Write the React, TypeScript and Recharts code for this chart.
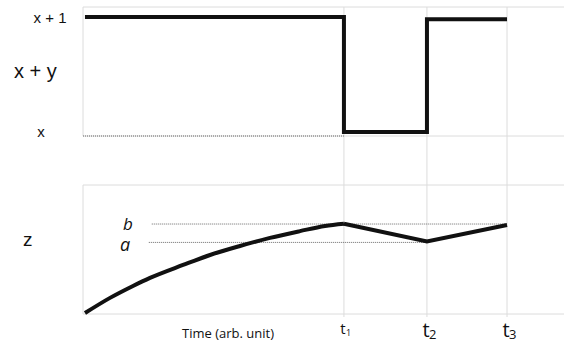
import React from 'react';
import { ComposedChart, Line, XAxis, YAxis, ReferenceLine } from 'recharts';

// ---- data ----
const tMarks = [2.656, 3.501, 4.316]; // t1, t2, t3
const tSubs = ['1', '2', '3'];
const stateTicks = [0, 1];
const stateTickLabels = ['x', 'x + 1'];
const stateSteps = [
  { t: 0.02, s: 1 },
  { t: 2.656, s: 0 },
  { t: 3.501, s: 0.98 },
  { t: 4.316, s: 0.98 },
];
const zRise = [
  { t: 0.02, z: 0.03 },
  { t: 0.275, z: 0.5 },
  { t: 0.509, z: 0.87 },
  { t: 0.682, z: 1.12 },
  { t: 1.018, z: 1.52 },
  { t: 1.293, z: 1.83 },
  { t: 1.598, z: 2.11 },
  { t: 1.903, z: 2.36 },
  { t: 2.209, z: 2.57 },
  { t: 2.463, z: 2.73 },
  { t: 2.656, z: 2.8 },
];
const zAfter = [
  { t: 2.656, z: 2.8 },
  { t: 3.501, z: 2.25 },
  { t: 4.316, z: 2.76 },
];
const levelB = 2.79;
const levelA = 2.22;
const levelBStart = 0.7;
const levelAStart = 0.67;
const stateFrameBottom = -0.035;
const zFrameTop = 4;
const zFrameBottom = 0;

// axis domains
const xMax = 4.896;
const sDomain: [number, number] = [-1.609, 1.087];
const zDomain: [number, number] = [-0.093, 9.52];

const GRID = '#dcdcdc';
const INK = '#111111';
const DOT = '#6a6a6a';

const StateTick = (props: any) => {
  const { y, payload } = props;
  const idx = stateTicks.indexOf(payload.value);
  const label = stateTickLabels[idx];
  const cx = idx === 1 ? 50 : 41;
  return (
    <text x={cx} y={y + (idx === 1 ? 6 : 5)} textAnchor="middle" fontFamily="Liberation Sans, Arial, sans-serif" fontSize={15} fill="#111">
      {label}
    </text>
  );
};

const TimeTick = (props: any) => {
  const { x, y, payload } = props;
  const idx = tMarks.indexOf(payload.value);
  const big = idx > 0;
  const fs = big ? 20 : 15;
  const sfs = big ? 13 : 9;
  const base = big ? y + 20 : y + 17;
  return (
    <g>
      <text x={x - 1} y={base} textAnchor="middle" fontFamily="Open Sans, sans-serif" fontSize={fs} fill="#111">t</text>
      <text x={x + 2} y={base + 2} textAnchor="start" fontFamily="Open Sans, sans-serif" fontSize={sfs} fill="#111">
        {tSubs[idx]}
      </text>
    </g>
  );
};

export default function App() {
  return (
    <div style={{ position: 'absolute', left: 0, top: 0, width: 564, height: 343, background: '#fff' }}>
      <ComposedChart width={564} height={343} margin={{ top: 7, right: 0, bottom: 0, left: 0 }}>
        <XAxis
          dataKey="t"
          type="number"
          domain={[0, xMax]}
          allowDataOverflow
          ticks={tMarks}
          tick={<TimeTick />}
          axisLine={false}
          tickLine={false}
          tickSize={0}
          tickMargin={0}
          height={26}
          interval={0}
        />
        <YAxis
          yAxisId="s"
          type="number"
          domain={sDomain}
          allowDataOverflow
          ticks={stateTicks}
          tick={<StateTick />}
          axisLine={false}
          tickLine={false}
          width={83}
        />
        <YAxis yAxisId="z" type="number" domain={zDomain} allowDataOverflow hide />

        {/* grid / frame */}
        {tMarks.map((t) => (
          <ReferenceLine key={t} x={t} yAxisId="s" stroke={GRID} strokeWidth={1} />
        ))}
        <ReferenceLine y={sDomain[1]} yAxisId="s" stroke={GRID} ifOverflow="visible" />
        <ReferenceLine y={stateFrameBottom} yAxisId="s" stroke={GRID} />
        <ReferenceLine
          yAxisId="s"
          segment={[{ x: 0, y: stateFrameBottom }, { x: 0, y: sDomain[1] }]}
          stroke={GRID}
          ifOverflow="visible"
        />
        <ReferenceLine y={zFrameTop} yAxisId="z" stroke={GRID} />
        <ReferenceLine y={zFrameBottom} yAxisId="z" stroke={GRID} />
        <ReferenceLine
          yAxisId="z"
          segment={[{ x: 0, y: zFrameBottom }, { x: 0, y: zFrameTop }]}
          stroke={GRID}
          ifOverflow="visible"
        />

        {/* dotted level lines */}
        <ReferenceLine
          yAxisId="s"
          segment={[{ x: 0, y: stateFrameBottom }, { x: tMarks[0], y: stateFrameBottom }]}
          stroke={DOT}
          strokeDasharray="1 1"
        />
        <ReferenceLine
          yAxisId="z"
          segment={[{ x: levelBStart, y: levelB }, { x: tMarks[2], y: levelB }]}
          stroke={DOT}
          strokeDasharray="1 1"
        />
        <ReferenceLine
          yAxisId="z"
          segment={[{ x: levelAStart, y: levelA }, { x: tMarks[1], y: levelA }]}
          stroke={DOT}
          strokeDasharray="1 1"
        />

        {/* series */}
        <Line
          yAxisId="s"
          data={stateSteps}
          dataKey="s"
          type="stepAfter"
          stroke={INK}
          strokeWidth={4}
          strokeLinejoin="miter"
          dot={false}
          isAnimationActive={false}
        />
        <Line
          yAxisId="z"
          data={zRise}
          dataKey="z"
          type="monotone"
          stroke={INK}
          strokeWidth={4}
          dot={false}
          isAnimationActive={false}
        />
        <Line
          yAxisId="z"
          data={zAfter}
          dataKey="z"
          type="linear"
          stroke={INK}
          strokeWidth={4}
          strokeLinejoin="miter"
          dot={false}
          isAnimationActive={false}
        />
      </ComposedChart>
      <svg width={564} height={343} style={{ position: 'absolute', left: 0, top: 0, pointerEvents: 'none' }}>
        <text x={14} y={78} fontFamily="Liberation Sans, Arial, sans-serif" fontSize={20} fill="#111">x + y</text>
        <text x={23} y={246} fontFamily="Liberation Sans, Arial, sans-serif" fontSize={19} fill="#111">z</text>
        <text x={123} y={230} fontFamily="Open Sans, sans-serif" fontStyle="italic" fontSize={17} fill="#111">b</text>
        <text x={120} y={251} fontFamily="Open Sans, sans-serif" fontStyle="italic" fontSize={18} fill="#111">a</text>
        <text x={182} y={338} fontFamily="Open Sans, sans-serif" fontSize={13} fill="#111">Time (arb. unit)</text>
      </svg>
    </div>
  );
}
